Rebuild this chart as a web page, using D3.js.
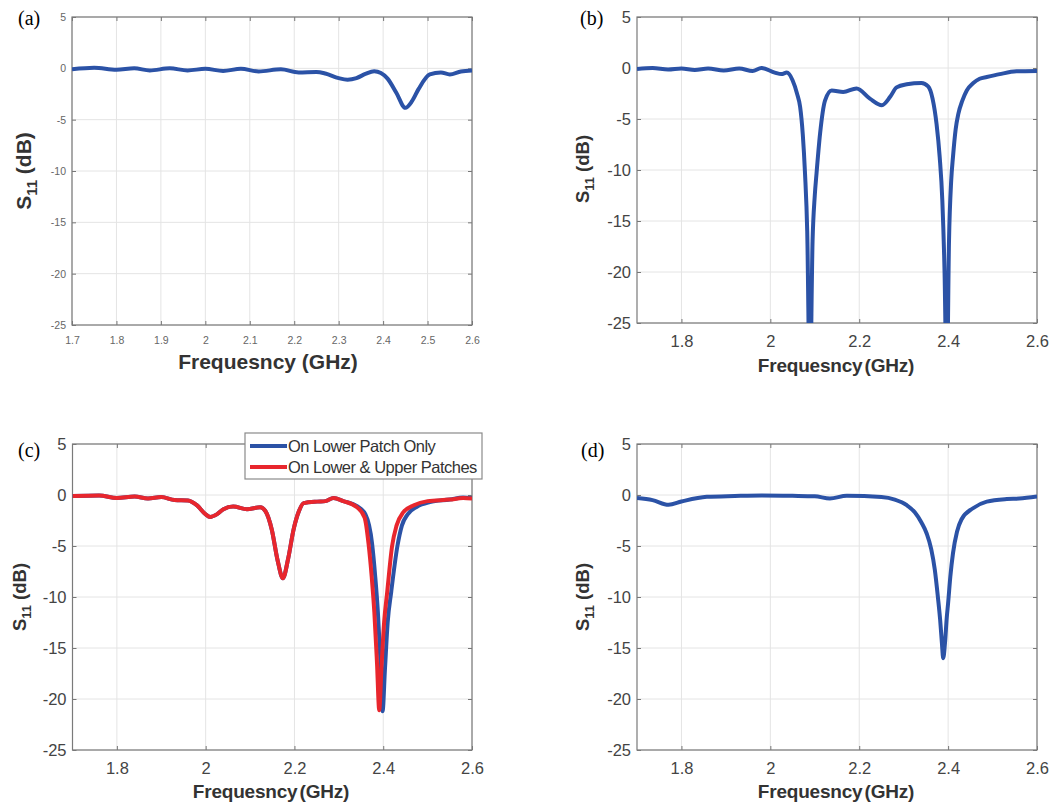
<!DOCTYPE html>
<html>
<head>
<meta charset="utf-8">
<script src="https://cdn.jsdelivr.net/npm/d3@7"></script>
<style>
  body { margin: 0; background: #fff; }
  svg { display: block; }
</style>
</head>
<body>
<svg id="chart" width="1052" height="804"></svg>
<script>
// ---- data ----
// (a)
const freqA = [1.70, 1.75, 1.80, 1.84, 1.875, 1.92, 1.96, 2.00, 2.04, 2.08, 2.12, 2.17, 2.21, 2.25, 2.27, 2.30, 2.32, 2.34, 2.36, 2.38, 2.395, 2.41, 2.43, 2.45, 2.465, 2.48, 2.505, 2.53, 2.55, 2.575, 2.60];
const s11A  = [-0.1, 0.05, -0.15, 0.0, -0.2, 0.0, -0.2, -0.05, -0.25, -0.05, -0.3, -0.1, -0.4, -0.35, -0.5, -0.95, -1.1, -0.95, -0.55, -0.28, -0.45, -1.0, -2.4, -3.85, -3.2, -2.0, -0.6, -0.4, -0.6, -0.3, -0.2];

// (b)
const freqB = [1.70, 1.735, 1.77, 1.80, 1.83, 1.86, 1.895, 1.93, 1.96, 1.98, 2.01, 2.025, 2.037, 2.05, 2.06, 2.067, 2.073, 2.078, 2.083, 2.089, 2.095, 2.10, 2.104, 2.112, 2.123, 2.138, 2.164, 2.194, 2.224, 2.251, 2.27, 2.284, 2.307, 2.34, 2.355, 2.365, 2.374, 2.381, 2.387, 2.392, 2.397, 2.402, 2.407, 2.411, 2.417, 2.423, 2.432, 2.442, 2.456, 2.471, 2.487, 2.516, 2.554, 2.60];
const s11B  = [-0.1, 0.0, -0.15, -0.05, -0.2, -0.05, -0.25, -0.05, -0.3, 0.0, -0.45, -0.6, -0.45, -1.2, -2.5, -3.8, -6.5, -10.3, -16, -32, -17, -12.5, -10.3, -6.4, -3.2, -2.2, -2.35, -2.0, -3.0, -3.65, -2.8, -1.9, -1.6, -1.47, -1.8, -3.0, -5.5, -8.7, -13, -20, -32, -17, -11, -8.7, -6, -4.5, -3.2, -2.2, -1.5, -1.05, -0.88, -0.6, -0.33, -0.3];

// (c) two measurements
const freqC1 = [1.70, 1.76, 1.80, 1.84, 1.87, 1.90, 1.93, 1.96, 1.98, 2.00, 2.01, 2.025, 2.04, 2.062, 2.093, 2.123, 2.135, 2.149, 2.162, 2.174, 2.186, 2.198, 2.21, 2.221, 2.251, 2.27, 2.288, 2.31, 2.341, 2.36, 2.375, 2.382, 2.388, 2.394, 2.3985, 2.404, 2.41, 2.418, 2.432, 2.442, 2.455, 2.476, 2.505, 2.55, 2.58, 2.60];
const s11C1  = [-0.1, -0.05, -0.3, -0.15, -0.35, -0.2, -0.5, -0.55, -1.0, -1.9, -2.15, -1.9, -1.4, -1.13, -1.4, -1.2, -1.6, -3.4, -6.4, -8.15, -6.2, -3.4, -1.6, -0.8, -0.65, -0.6, -0.3, -0.6, -1.1, -1.9, -4.8, -8, -11.5, -16.5, -21.2, -17, -12.5, -9.5, -5, -3.0, -1.9, -1.15, -0.7, -0.45, -0.25, -0.3];
const freqC2 = [1.70, 1.76, 1.80, 1.84, 1.87, 1.90, 1.93, 1.96, 1.98, 2.00, 2.01, 2.025, 2.04, 2.062, 2.093, 2.123, 2.135, 2.149, 2.162, 2.174, 2.186, 2.198, 2.21, 2.221, 2.251, 2.27, 2.288, 2.31, 2.341, 2.358, 2.367, 2.374, 2.38, 2.386, 2.391, 2.396, 2.402, 2.409, 2.42, 2.43, 2.445, 2.469, 2.50, 2.55, 2.58, 2.60];
const s11C2  = [-0.1, -0.05, -0.3, -0.15, -0.35, -0.2, -0.5, -0.55, -1.0, -1.9, -2.15, -1.9, -1.4, -1.13, -1.4, -1.2, -1.6, -3.4, -6.4, -8.15, -6.2, -3.4, -1.6, -0.8, -0.65, -0.6, -0.3, -0.6, -1.2, -2.2, -4.8, -8, -11.5, -16.5, -21.1, -17, -12.5, -9.5, -5, -3.0, -1.7, -1.0, -0.6, -0.45, -0.3, -0.35];
const seriesNamesC = ['On Lower Patch Only', 'On Lower & Upper Patches'];

// (d)
const freqD = [1.70, 1.735, 1.771, 1.80, 1.857, 1.92, 1.98, 2.05, 2.10, 2.134, 2.172, 2.25, 2.28, 2.307, 2.325, 2.34, 2.352, 2.362, 2.37, 2.377, 2.382, 2.386, 2.389, 2.393, 2.397, 2.40, 2.405, 2.411, 2.42, 2.43, 2.456, 2.487, 2.532, 2.56, 2.60];
const s11D  = [-0.3, -0.5, -0.96, -0.64, -0.18, -0.1, -0.05, -0.08, -0.12, -0.34, -0.08, -0.2, -0.45, -1.0, -1.7, -2.7, -3.8, -5.3, -7.3, -10, -12.2, -14.5, -16.0, -14.5, -12, -10.6, -8, -5.7, -3.6, -2.4, -1.3, -0.65, -0.4, -0.35, -0.15];

// tick values
const xTicksFine   = [1.7, 1.8, 1.9, 2, 2.1, 2.2, 2.3, 2.4, 2.5, 2.6];
const xTicksCoarse = [1.8, 2, 2.2, 2.4, 2.6];
const yTicks       = [-25, -20, -15, -10, -5, 0, 5];

// ---- layout ----
const BLUE = '#2b52a6';
const RED = '#e8262d';
const FONT = '"Liberation Sans", Arial, Helvetica, sans-serif';

const panels = [
  { tag: '(a)', tagX: 18, tagY: 25, left: 72, top: 17, right: 472, bottom: 325,
    xTicks: xTicksFine, tickFont: 10.5, tickColor: '#666',
    xLab: { x: 268, y: 369, size: 21, ls: 0, ws: 0 },
    yLab: { x: 31, y: 171, size: 21, sub: 15 },
    series: [{ f: freqA, v: s11A, color: BLUE }] },
  { tag: '(b)', tagX: 580, tagY: 25, left: 637, top: 17, right: 1037, bottom: 323,
    xTicks: xTicksCoarse, tickFont: 16.5, tickColor: '#444',
    xLab: { x: 836, y: 372, size: 19, ls: -0.2, ws: -3 },
    yLab: { x: 589, y: 169, size: 18.5, sub: 13 },
    series: [{ f: freqB, v: s11B, color: BLUE }] },
  { tag: '(c)', tagX: 18, tagY: 457, left: 72.5, top: 444, right: 472, bottom: 750,
    xTicks: xTicksCoarse, tickFont: 16.5, tickColor: '#444',
    xLab: { x: 271, y: 798, size: 19, ls: -0.2, ws: -3 },
    yLab: { x: 26, y: 597, size: 18.5, sub: 13 },
    series: [{ f: freqC1, v: s11C1, color: BLUE }, { f: freqC2, v: s11C2, color: RED }],
    legend: { x: 245, y: 433, w: 237, h: 46, names: seriesNamesC, colors: [BLUE, RED] } },
  { tag: '(d)', tagX: 581, tagY: 457, left: 637, top: 444, right: 1037, bottom: 750,
    xTicks: xTicksCoarse, tickFont: 16.5, tickColor: '#444',
    xLab: { x: 836, y: 798, size: 19, ls: -0.2, ws: -3 },
    yLab: { x: 589, y: 597, size: 18.5, sub: 13 },
    series: [{ f: freqD, v: s11D, color: BLUE }] }
];

const svg = d3.select('#chart');

panels.forEach((p, i) => {
  const x = d3.scaleLinear().domain([1.7, 2.6]).range([p.left, p.right]);
  const y = d3.scaleLinear().domain([-25, 5]).range([p.bottom, p.top]);
  const g = svg.append('g');

  // grid
  g.selectAll('line.gx').data(p.xTicks).enter().append('line')
    .attr('x1', d => x(d)).attr('x2', d => x(d))
    .attr('y1', p.top).attr('y2', p.bottom)
    .attr('stroke', '#e4e4e4').attr('stroke-width', 1);
  g.selectAll('line.gy').data(yTicks).enter().append('line')
    .attr('x1', p.left).attr('x2', p.right)
    .attr('y1', d => y(d)).attr('y2', d => y(d))
    .attr('stroke', '#e4e4e4').attr('stroke-width', 1);

  // axes with inward ticks (MATLAB style)
  const fmt = d => String(d);
  const styleAxis = (sel, showText) => {
    sel.select('.domain').remove();
    sel.selectAll('.tick line').attr('stroke', '#777');
    sel.selectAll('.tick text')
      .attr('fill', p.tickColor)
      .style('font-family', FONT)
      .style('font-size', p.tickFont + 'px')
      .style('display', showText ? null : 'none');
  };
  g.append('g').attr('transform', `translate(0,${p.bottom})`)
    .call(d3.axisBottom(x).tickValues(p.xTicks).tickSize(-4).tickPadding(12).tickFormat(fmt))
    .call(s => styleAxis(s, true));
  g.append('g').attr('transform', `translate(0,${p.top})`)
    .call(d3.axisTop(x).tickValues(p.xTicks).tickSize(-4).tickFormat(''))
    .call(s => styleAxis(s, false));
  g.append('g').attr('transform', `translate(${p.left},0)`)
    .call(d3.axisLeft(y).tickValues(yTicks).tickSize(-4).tickPadding(6).tickFormat(fmt))
    .call(s => styleAxis(s, true));
  g.append('g').attr('transform', `translate(${p.right},0)`)
    .call(d3.axisRight(y).tickValues(yTicks).tickSize(-4).tickFormat(''))
    .call(s => styleAxis(s, false));

  // frame
  g.append('rect')
    .attr('x', p.left).attr('y', p.top)
    .attr('width', p.right - p.left).attr('height', p.bottom - p.top)
    .attr('fill', 'none').attr('stroke', '#7a7a7a').attr('stroke-width', 1.2);

  // curves, clipped to the plot box
  const clipId = 'clip' + i;
  svg.append('clipPath').attr('id', clipId).append('rect')
    .attr('x', p.left).attr('y', p.top)
    .attr('width', p.right - p.left).attr('height', p.bottom - p.top);

  const line = d3.line()
    .x(d => x(d[0]))
    .y(d => y(d[1]))
    .curve(d3.curveMonotoneX);

  p.series.forEach(s => {
    g.append('path')
      .datum(d3.zip(s.f, s.v))
      .attr('clip-path', `url(#${clipId})`)
      .attr('fill', 'none')
      .attr('stroke', s.color)
      .attr('stroke-width', 4)
      .attr('stroke-linejoin', 'round')
      .attr('d', line);
  });

  // axis labels
  g.append('text')
    .attr('x', p.xLab.x).attr('y', p.xLab.y)
    .attr('text-anchor', 'middle')
    .attr('fill', '#333')
    .style('font-family', FONT).style('font-weight', 'bold')
    .style('font-size', p.xLab.size + 'px')
    .style('letter-spacing', p.xLab.ls + 'px')
    .style('word-spacing', p.xLab.ws + 'px')
    .text('Frequesncy (GHz)');

  const yl = g.append('text')
    .attr('transform', `translate(${p.yLab.x},${p.yLab.y}) rotate(-90)`)
    .attr('text-anchor', 'middle')
    .attr('fill', '#333')
    .style('font-family', FONT).style('font-weight', 'bold')
    .style('font-size', p.yLab.size + 'px');
  yl.append('tspan').text('S');
  yl.append('tspan').attr('dy', p.yLab.sub * 0.4).style('font-size', p.yLab.sub + 'px').text('11');
  yl.append('tspan').attr('dy', -p.yLab.sub * 0.4).text(' (dB)');

  // panel tag
  g.append('text')
    .attr('x', p.tagX).attr('y', p.tagY)
    .attr('fill', '#000')
    .style('font-family', '"Liberation Serif", "Times New Roman", serif')
    .style('font-size', '20px')
    .text(p.tag);

  // legend
  if (p.legend) {
    const L = p.legend;
    const lg = g.append('g');
    lg.append('rect')
      .attr('x', L.x).attr('y', L.y).attr('width', L.w).attr('height', L.h)
      .attr('fill', '#fff').attr('stroke', '#8a8a8a').attr('stroke-width', 1.2);
    L.names.forEach((name, k) => {
      const ly = L.y + 13 + k * 21;
      lg.append('line')
        .attr('x1', L.x + 5).attr('x2', L.x + 42)
        .attr('y1', ly).attr('y2', ly)
        .attr('stroke', L.colors[k]).attr('stroke-width', 4);
      lg.append('text')
        .attr('x', L.x + 43).attr('y', ly + 5.5)
        .attr('fill', '#333')
        .style('font-family', FONT)
        .style('font-size', '16.5px')
        .style('letter-spacing', '-0.5px')
        .text(name);
    });
  }
});
</script>
</body>
</html>
